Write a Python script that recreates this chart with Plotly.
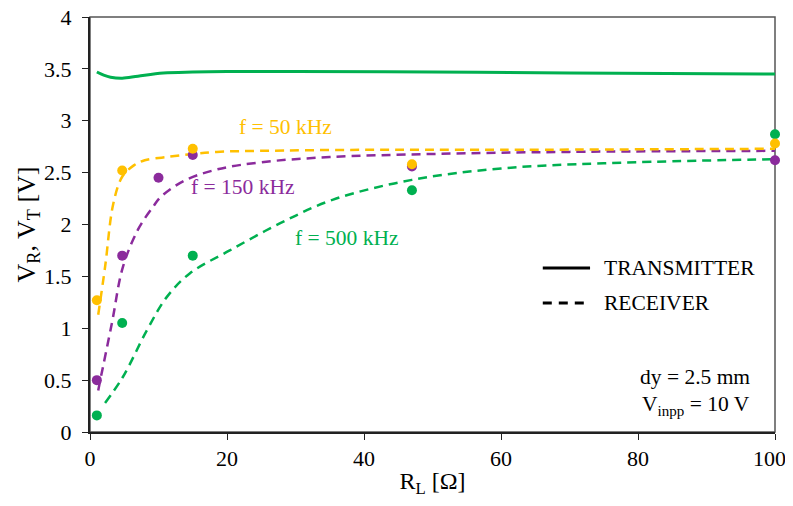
import plotly.graph_objects as go

# Measured points
x_meas = [1, 4.7, 15, 47, 100]
x_meas_150 = [1, 4.7, 10, 15, 47, 100]
y_meas_50 = [1.27, 2.52, 2.73, 2.58, 2.78]
y_meas_150 = [0.50, 1.70, 2.45, 2.67, 2.56, 2.62]
y_meas_500 = [0.16, 1.05, 1.70, 2.33, 2.87]

# Simulated receiver curves (dashed)
x_sim_50 = [1.2, 2.2, 3.4, 4.7, 6.4, 8, 11.2, 15, 18.5, 25, 40, 60, 100]
y_sim_50 = [1.13, 1.59, 2.2, 2.46, 2.57, 2.62, 2.65, 2.68, 2.70, 2.71, 2.72, 2.72, 2.73]
x_sim_150 = [1.2, 1.5, 3.2, 4.8, 7, 9.2, 10.4, 13.7, 18.5, 25, 35, 50, 70, 100]
y_sim_150 = [0.40, 0.5, 1.05, 1.59, 1.95, 2.17, 2.27, 2.42, 2.53, 2.60, 2.65, 2.68, 2.70, 2.71]
x_sim_500 = [2.2, 4.8, 8.3, 11.2, 14.6, 20.4, 27.7, 35.5, 47, 60, 75, 100]
y_sim_500 = [0.28, 0.53, 0.98, 1.30, 1.53, 1.75, 2.01, 2.24, 2.43, 2.54, 2.59, 2.63]

# Transmitter (solid)
x_tx = [1, 2, 3, 4.7, 7, 10.7, 15, 20, 30, 50, 70, 100]
y_tx = [3.47, 3.44, 3.42, 3.41, 3.43, 3.46, 3.47, 3.475, 3.475, 3.47, 3.46, 3.45]

# x tick labels (last one padded so it stays inside the page)
x_tickvals = [0, 20, 40, 60, 80, 100]
x_ticktext = ["0", "20", "40", "60", "80", "100\u2002"]

legend_labels = ["TRANSMITTER", "RECEIVER"]

YEL = "#FFC000"
PUR = "#8B2B9C"
GRN = "#00B050"
FONT = "Times New Roman"

fig = go.Figure()

fig.add_trace(go.Scatter(x=x_tx, y=y_tx, mode="lines", line=dict(color=GRN, width=3, shape="spline"),
                         showlegend=False))
fig.add_trace(go.Scatter(x=x_sim_500, y=y_sim_500, mode="lines",
                         line=dict(color=GRN, width=2.5, dash="9px,6px", shape="spline"), showlegend=False))
fig.add_trace(go.Scatter(x=x_sim_150, y=y_sim_150, mode="lines",
                         line=dict(color=PUR, width=2.5, dash="9px,6px", shape="spline"), showlegend=False))
fig.add_trace(go.Scatter(x=x_sim_50, y=y_sim_50, mode="lines",
                         line=dict(color=YEL, width=2.5, dash="9px,6px", shape="spline"), showlegend=False))
fig.add_trace(go.Scatter(x=x_meas, y=y_meas_500, mode="markers", marker=dict(color=GRN, size=10),
                         showlegend=False, cliponaxis=False))
fig.add_trace(go.Scatter(x=x_meas_150, y=y_meas_150, mode="markers", marker=dict(color=PUR, size=10),
                         showlegend=False, cliponaxis=False))
fig.add_trace(go.Scatter(x=x_meas, y=y_meas_50, mode="markers", marker=dict(color=YEL, size=10),
                         showlegend=False, cliponaxis=False))

annos = [
    dict(x=28.5, y=2.94, text="f = 50 kHz", color=YEL),
    dict(x=22.2, y=2.36, text="f = 150 kHz", color=PUR),
    dict(x=37.4, y=1.87, text="f = 500 kHz", color=GRN),
]
for a in annos:
    fig.add_annotation(x=a["x"], y=a["y"], text=a["text"], showarrow=False,
                       font=dict(family=FONT, size=21.5, color=a["color"]))

# manual legend (black line keys)
for lab, yy, dash in [(legend_labels[0], 0.395, "solid"), (legend_labels[1], 0.311, "9px,7px")]:
    fig.add_shape(type="line", xref="paper", yref="paper", x0=0.661, x1=0.730, y0=yy, y1=yy,
                  line=dict(color="black", width=3, dash=dash))
    fig.add_annotation(x=0.747, y=yy, xref="paper", yref="paper", xanchor="left", yanchor="middle",
                       text=lab, showarrow=False, font=dict(family=FONT, size=21.5, color="black"))

fig.add_annotation(x=0.967, y=0.133, xref="paper", yref="paper", xanchor="right", yanchor="middle",
                   text="dy = 2.5 mm", showarrow=False, font=dict(family=FONT, size=21.5, color="black"))
fig.add_annotation(x=0.967, y=0.063, xref="paper", yref="paper", xanchor="right", yanchor="middle",
                   text="V<sub>inpp</sub> = 10 V", showarrow=False, font=dict(family=FONT, size=21.5, color="black"))

fig.update_layout(
    width=777, height=490,
    margin=dict(l=82, r=10, t=9, b=66),
    paper_bgcolor="white", plot_bgcolor="white",
    font=dict(family=FONT, size=22, color="black"),
    showlegend=False,
    xaxis=dict(range=[0, 100], tickvals=x_tickvals, ticktext=x_ticktext,
               showgrid=False, zeroline=False, automargin=False,
               showline=True, linecolor="#222", linewidth=2, mirror=False,
               ticks="outside", ticklen=6, tickcolor="#222", ticklabeloverflow="allow",
               ticklabelstandoff=0,
               title=dict(text="R<sub>L</sub> [Ω]", font=dict(family=FONT, size=24), standoff=14),
               tickfont=dict(family=FONT, size=22)),
    yaxis=dict(range=[0, 4], dtick=0.5, showgrid=False, zeroline=False, automargin=False,
               showline=True, linecolor="#222", linewidth=2,
               ticks="outside", ticklen=6, tickcolor="#222", ticklabeloverflow="allow",
               ticklabelstandoff=6,
               title=dict(text="V<sub>R</sub>, V<sub>T</sub> [V]", font=dict(family=FONT, size=26), standoff=0),
               tickfont=dict(family=FONT, size=22)),
)

fig.add_shape(type="rect", xref="paper", yref="paper", x0=0, y0=0, x1=1, y1=1,
              line=dict(color="#555", width=1.5), layer="below")

fig.write_html("out.html")
